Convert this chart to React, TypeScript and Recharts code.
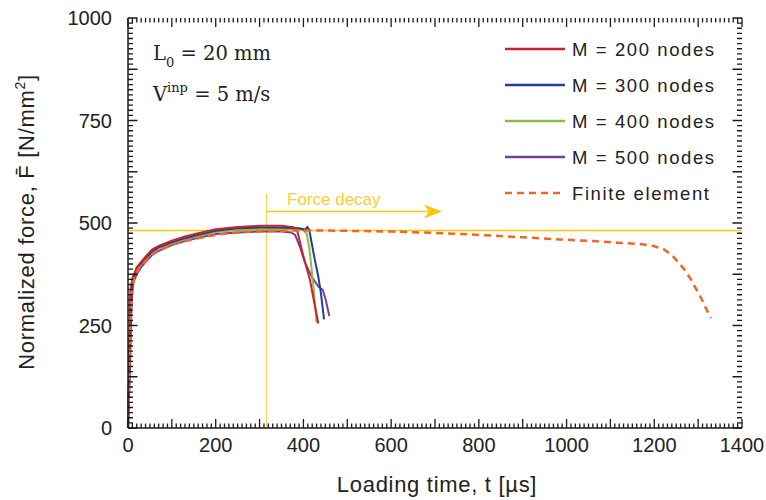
import React from "react";
import {
  LineChart,
  Line,
  XAxis,
  YAxis,
  ReferenceLine,
  ReferenceDot,
  Legend,
} from "recharts";

// force–time curves (t in µs, F in N/mm²)
const m200 = [
  { t: 0, F: 0 }, { t: 3, F: 150 }, { t: 6, F: 330 }, { t: 10, F: 365 }, { t: 20, F: 392 },
  { t: 30, F: 405 }, { t: 40, F: 418 }, { t: 55, F: 435 }, { t: 70, F: 444 }, { t: 100, F: 457 },
  { t: 130, F: 467 }, { t: 160, F: 475 }, { t: 200, F: 485 }, { t: 250, F: 490 }, { t: 300, F: 493 },
  { t: 350, F: 493 }, { t: 377, F: 490 }, { t: 385, F: 485 }, { t: 400, F: 418 }, { t: 415, F: 361 },
  { t: 425, F: 304 }, { t: 434, F: 255 },
];

const m300 = [
  { t: 0, F: 0 }, { t: 3, F: 140 }, { t: 6, F: 320 }, { t: 10, F: 360 }, { t: 20, F: 388 },
  { t: 30, F: 402 }, { t: 40, F: 414 }, { t: 55, F: 431 }, { t: 70, F: 441 }, { t: 100, F: 453 },
  { t: 130, F: 463 }, { t: 160, F: 471 }, { t: 200, F: 481 }, { t: 250, F: 487 }, { t: 300, F: 489 },
  { t: 350, F: 489 }, { t: 390, F: 487 }, { t: 404, F: 484 }, { t: 409, F: 490 }, { t: 413, F: 484 },
  { t: 419, F: 450 }, { t: 426, F: 410 }, { t: 434, F: 369 }, { t: 440, F: 328 }, { t: 447, F: 265 },
];

const m400 = [
  { t: 0, F: 0 }, { t: 3, F: 160 }, { t: 5, F: 340 }, { t: 10, F: 362 }, { t: 20, F: 385 },
  { t: 30, F: 400 }, { t: 40, F: 411 }, { t: 55, F: 428 }, { t: 70, F: 438 }, { t: 100, F: 450 },
  { t: 130, F: 460 }, { t: 160, F: 468 }, { t: 200, F: 478 }, { t: 250, F: 483 }, { t: 300, F: 485 },
  { t: 350, F: 486 }, { t: 397, F: 485 }, { t: 407, F: 475 }, { t: 413, F: 442 }, { t: 419, F: 385 },
  { t: 425, F: 320 }, { t: 430, F: 257 },
];

const m500 = [
  { t: 0, F: 0 }, { t: 4, F: 120 }, { t: 8, F: 300 }, { t: 12, F: 355 }, { t: 20, F: 375 },
  { t: 30, F: 392 }, { t: 40, F: 405 }, { t: 55, F: 422 }, { t: 70, F: 432 }, { t: 100, F: 446 },
  { t: 130, F: 456 }, { t: 160, F: 464 }, { t: 200, F: 473 }, { t: 250, F: 477 }, { t: 300, F: 479 },
  { t: 350, F: 479 }, { t: 372, F: 477 }, { t: 381, F: 471 }, { t: 392, F: 442 }, { t: 404, F: 402 },
  { t: 419, F: 369 }, { t: 434, F: 345 }, { t: 444, F: 337 }, { t: 451, F: 312 }, { t: 459, F: 273 },
];

const finiteElement = [
  { t: 0, F: 0 }, { t: 4, F: 200 }, { t: 8, F: 330 }, { t: 15, F: 370 }, { t: 25, F: 390 },
  { t: 40, F: 408 }, { t: 60, F: 428 }, { t: 100, F: 447 }, { t: 150, F: 461 }, { t: 200, F: 471 },
  { t: 250, F: 477 }, { t: 300, F: 480 }, { t: 350, F: 481 }, { t: 400, F: 482 }, { t: 500, F: 481 },
  { t: 600, F: 479 }, { t: 700, F: 476 }, { t: 800, F: 471 }, { t: 900, F: 465 }, { t: 985, F: 460 },
  { t: 1061, F: 456 }, { t: 1114, F: 452 }, { t: 1167, F: 449 }, { t: 1198, F: 444 }, { t: 1221, F: 436 },
  { t: 1240, F: 422 }, { t: 1255, F: 404 }, { t: 1270, F: 385 }, { t: 1283, F: 363 }, { t: 1294, F: 342 },
  { t: 1306, F: 319 }, { t: 1316, F: 296 }, { t: 1329, F: 268 },
];

const series = [
  { name: "M = 500 nodes", data: m500, color: "#7b3f99", dash: undefined },
  { name: "M = 400 nodes", data: m400, color: "#8dbd3e", dash: undefined },
  { name: "M = 300 nodes", data: m300, color: "#1f3f98", dash: undefined },
  { name: "M = 200 nodes", data: m200, color: "#cc2229", dash: undefined },
  { name: "Finite element", data: finiteElement, color: "#f26522", dash: "7 5" },
];
const legendOrder = ["M = 200 nodes", "M = 300 nodes", "M = 400 nodes", "M = 500 nodes", "Finite element"];

// axis ticks: labelled values, major marks every 100 / 125, minor every 10 / 12.5
const xLabels = [0, 200, 400, 600, 800, 1000, 1200, 1400];
const yLabels = [0, 250, 500, 750, 1000];
const xDomain = [0, 1400];
const yDomain = [0, 1000];
const xMarks: number[] = [];
for (let v = 0; v <= 1400; v += 10) xMarks.push(v);
const yMarks: number[] = [];
for (let v = 0; v <= 1000; v += 12.5) yMarks.push(v);

// annotation values
const plateauForce = 482;
const decayStart = 316;
const decayLineTop = 571;
const arrowForce = 528;
const arrowTip = 716;

// plot box (matches the chart margins / axis sizes below)
const W = 766;
const H = 500;
const LEFT = 128;
const RIGHT = 742;
const TOP = 18;
const BOTTOM = 428;

const YELLOW = "#f9c80e";
const INK = "#1a1a1a";
const FONT = "'Liberation Sans', Arial, sans-serif";

const XLabel = (props: any) => (
  <text x={props.x} y={Number(props.y) + 24} textAnchor="middle" fontSize={20} fontFamily={FONT} fill="#222">
    {props.payload.value}
  </text>
);

const YLabel = (props: any) => (
  <text x={Number(props.x) - 16} y={Number(props.y) + 7} textAnchor="end" fontSize={20} fontFamily={FONT} fill="#222">
    {props.payload.value}
  </text>
);

const LegendBox = () => (
  <svg width={250} height={180}>
    {legendOrder.map((name, i) => {
      const s = series.find((d) => d.name === name)!;
      const cy = 19 + i * 36;
      return (
        <g key={name}>
          <line x1={5} x2={65} y1={cy} y2={cy} stroke={s.color} strokeWidth={2.5} strokeDasharray={s.dash} />
          <text x={72} y={cy + 6.5} fontSize={18.5} letterSpacing={1.6} fontFamily={FONT} fill="#222">
            {name}
          </text>
        </g>
      );
    })}
  </svg>
);

const ArrowHead = (props: any) => {
  const { cx, cy } = props;
  return <path d={`M${cx},${cy} l-18,-7 l5,7 l-5,7 z`} fill={YELLOW} />;
};

// inward tick marks on all four sides of the frame
const FrameTicks = () => {
  const sx = (v: number) => LEFT + ((v - xDomain[0]) / (xDomain[1] - xDomain[0])) * (RIGHT - LEFT);
  const sy = (v: number) => BOTTOM - ((v - yDomain[0]) / (yDomain[1] - yDomain[0])) * (BOTTOM - TOP);
  let d = "";
  xMarks.forEach((v) => {
    const len = v % 100 === 0 ? 9 : 4.5;
    const x = sx(v);
    d += `M${x},${BOTTOM}v${-len}M${x},${TOP}v${len}`;
  });
  yMarks.forEach((v) => {
    const len = v % 125 === 0 ? 9.5 : 5;
    const y = sy(v);
    d += `M${LEFT},${y}h${len}M${RIGHT},${y}h${-len}`;
  });
  return <path d={d} stroke={INK} strokeWidth={1.3} fill="none" />;
};

const axisLineStyle = { stroke: INK, strokeWidth: 1.5 };

export default function App() {
  return (
    <div style={{ position: "absolute", left: 0, top: 0, width: W, height: H, background: "#fff" }}>
      <LineChart width={W} height={H} margin={{ top: TOP, right: W - RIGHT, bottom: 0, left: 0 }}>
        <XAxis
          type="number"
          dataKey="t"
          domain={xDomain}
          ticks={xLabels}
          interval={0}
          height={H - BOTTOM}
          tickSize={0}
          tickMargin={0}
          tickLine={false}
          axisLine={axisLineStyle}
          tick={<XLabel />}
        />
        <XAxis
          xAxisId="top"
          orientation="top"
          type="number"
          domain={xDomain}
          height={0}
          tick={false}
          tickLine={false}
          axisLine={axisLineStyle}
        />
        <YAxis
          type="number"
          domain={yDomain}
          ticks={yLabels}
          interval={0}
          width={LEFT}
          tickSize={0}
          tickMargin={0}
          tickLine={false}
          axisLine={axisLineStyle}
          tick={<YLabel />}
        />
        <YAxis
          yAxisId="right"
          orientation="right"
          type="number"
          domain={yDomain}
          width={0}
          tick={false}
          tickLine={false}
          axisLine={axisLineStyle}
        />
        <ReferenceLine y={plateauForce} stroke={YELLOW} strokeWidth={1.5} />
        <ReferenceLine
          segment={[{ x: decayStart, y: 0 }, { x: decayStart, y: decayLineTop }]}
          stroke="#f8d95e"
          strokeWidth={1.5}
        />
        <ReferenceLine
          segment={[{ x: decayStart, y: arrowForce }, { x: arrowTip - 10, y: arrowForce }]}
          stroke={YELLOW}
          strokeWidth={1.5}
        />
        <ReferenceDot x={arrowTip} y={arrowForce} r={1} shape={<ArrowHead />} />
        {series.map((s) => (
          <Line
            key={s.name}
            name={s.name}
            data={s.data}
            dataKey="F"
            type="linear"
            stroke={s.color}
            strokeWidth={s.dash ? 2.5 : 2}
            strokeDasharray={s.dash}
            dot={false}
            isAnimationActive={false}
          />
        ))}
        <Legend
          layout="vertical"
          align="center"
          verticalAlign="middle"
          wrapperStyle={{ left: 500, top: 30, width: 250 }}
          content={<LegendBox />}
        />
      </LineChart>
      <svg width={W} height={H} style={{ position: "absolute", left: 0, top: 0, pointerEvents: "none" }}>
        <FrameTicks />
        <text
          transform="translate(34,222) rotate(-90)"
          textAnchor="middle"
          fontSize={22}
          letterSpacing={0.7}
          fontFamily={FONT}
          fill="#222"
        >
          Normalized force, F{"\u0304"} [N/mm
          <tspan dy={-9} fontSize={14}>2</tspan>
          <tspan dy={9}>]</tspan>
        </text>
        <text x={437} y={492} textAnchor="middle" fontSize={22} letterSpacing={0.7} fontFamily={FONT} fill="#222">
          Loading time, t [µs]
        </text>
        <text x={153} y={60} fontSize={19.5} fontFamily="'DejaVu Serif', serif" fill="#222">
          L<tspan dy={7} fontSize={13}>0</tspan>
          <tspan dy={-7}> = 20 mm</tspan>
        </text>
        <text x={153} y={101} fontSize={19.5} fontFamily="'DejaVu Serif', serif" fill="#222">
          V<tspan dy={-9} fontSize={13}>inp</tspan>
          <tspan dy={9}> = 5 m/s</tspan>
        </text>
        <text x={287} y={205} fontSize={17} fontFamily={FONT} fill="#f7cf33">
          Force decay
        </text>
      </svg>
    </div>
  );
}
